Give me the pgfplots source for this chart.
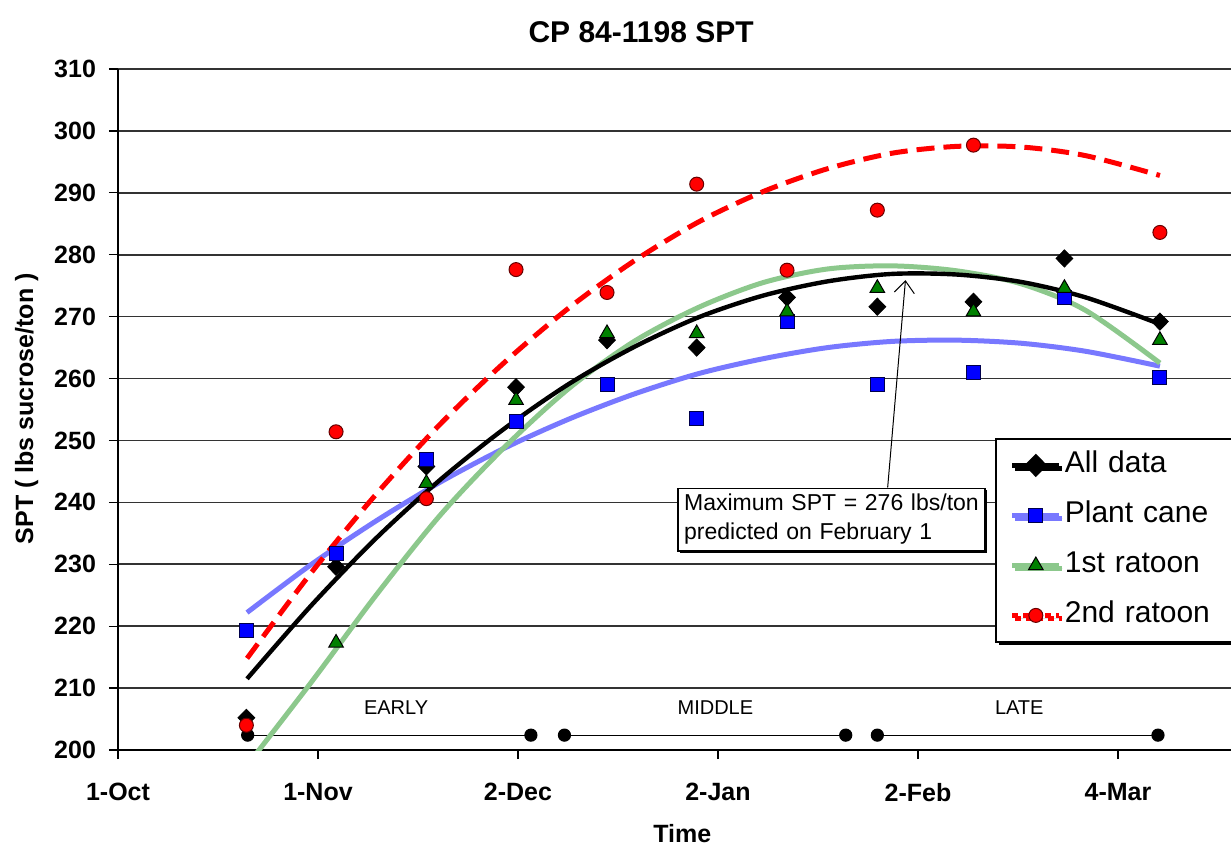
\documentclass[border=0pt]{standalone}
\usepackage{pgfplots}
\pgfplotsset{compat=1.18}
\usepackage{fontspec}
\setmainfont{Liberation Sans}
\usetikzlibrary{arrows.meta,shadows}
\definecolor{pcblue}{RGB}{0,0,255}
\definecolor{pcline}{RGB}{120,120,255}
\definecolor{rgreen}{RGB}{0,128,0}
\definecolor{rgline}{RGB}{140,200,140}
\definecolor{rred}{RGB}{255,0,0}
\begin{document}
\begin{tikzpicture}
\begin{axis}[
  scale only axis, width=556.5pt, height=340.5pt,
  xmin=0, xmax=172.52, ymin=200, ymax=310,
  xtick={0,31,62,93,124,155},
  xticklabels={1-Oct,1-Nov,2-Dec,2-Jan,2-Feb,4-Mar},
  ytick={200,210,...,310},
  axis x line*=bottom, axis y line*=left,
  axis line style={-, black, line width=0.8pt},
  tick align=outside, major tick length=4.5pt,
  tick style={black, line width=0.6pt},
  ymajorgrids, grid style={black!80, line width=0.8pt},
  ticklabel style={font=\bfseries\fontsize{12.5}{15}\selectfont},
  xticklabel style={yshift=-8.5pt},
  yticklabel style={xshift=-3pt},
  /pgf/number format/assume math mode=true,
  title={CP 84-1198 SPT},
  title style={at={(axis description cs:0.47,1.036)}, anchor=center, font=\bfseries\fontsize{15}{18}\selectfont},
  xlabel={Time},
  xlabel style={at={(axis description cs:0.507,-0.122)}, anchor=center, font=\bfseries\fontsize{12.5}{15}\selectfont},
  ylabel={SPT ( lbs sucrose/ton )},
  ylabel style={at={(axis description cs:-0.082,0.501)}, anchor=center, font=\bfseries\fontsize{12.5}{15}\selectfont},
  legend style={at={(axis description cs:0.788,0.458)}, anchor=north west, draw=black, line width=0.8pt, fill=white,
    font=\fontsize{15}{18}\selectfont, inner xsep=7pt, inner ysep=6pt, row sep=10.5pt,
    nodes={inner xsep=1.5pt, inner ysep=0pt, text height=11pt, text depth=3.5pt, text width=76pt, align=left, yshift=-1.5pt},
    drop shadow={shadow xshift=1.5pt, shadow yshift=-1.5pt, fill=black, opacity=1}},
  legend cell align=left,
  legend image code/.code={\draw[mark repeat=2, mark phase=2, #1] plot coordinates {(0pt,-1.5pt) (11.75pt,-1.5pt) (23.5pt,-1.5pt)};},
]
% period bars
\addplot[forget plot, black, line width=0.6pt, mark=*, mark size=3pt] coordinates {(20.1,202.4) (64.0,202.4)};
\addplot[forget plot, black, line width=0.6pt, mark=*, mark size=3pt] coordinates {(69.2,202.4) (112.8,202.4)};
\addplot[forget plot, black, line width=0.6pt, mark=*, mark size=3pt] coordinates {(117.7,202.4) (161.2,202.4)};
\node[font=\fontsize{10}{12}\selectfont] at (axis cs:43.1,206.8) {EARLY};
\node[font=\fontsize{10}{12}\selectfont] at (axis cs:92.6,206.8) {MIDDLE};
\node[font=\fontsize{10}{12}\selectfont] at (axis cs:139.7,206.8) {LATE};

% data markers
\addplot[forget plot, only marks, mark=diamond*, mark size=4.3pt, mark options={xscale=1.3, fill=black, draw=black}] coordinates {
(19.9,205.2)(33.8,229.6)(47.8,245.8)(61.7,258.6)(75.8,266.2)(89.7,265.0)(103.7,273.1)(117.7,271.6)(132.6,272.4)(146.7,279.4)(161.5,269.2)};
\addplot[forget plot, only marks, mark=square*, mark size=3.5pt, mark options={fill=pcblue, draw=black!70!blue, line width=0.5pt}] coordinates {
(19.9,219.3)(33.8,231.8)(47.8,246.9)(61.7,253.0)(75.8,259.1)(89.7,253.6)(103.7,269.2)(117.7,259.1)(132.6,260.9)(146.7,273.1)(161.5,260.2)};
\addplot[forget plot, only marks, mark=triangle*, mark size=4.2pt, mark options={fill=rgreen, draw=black, line width=0.5pt}] coordinates {
(33.8,217.3)(47.8,243.1)(61.7,256.5)(75.8,267.3)(89.7,267.3)(103.7,270.8)(117.7,274.6)(132.6,270.8)(146.7,274.6)(161.5,266.2)};
\addplot[forget plot, only marks, mark=*, mark size=3.5pt, mark options={fill=rred, draw=black!60!red, line width=0.5pt}] coordinates {
(19.9,204.0)(33.8,251.4)(47.8,240.6)(61.7,277.6)(75.8,273.9)(89.7,291.4)(103.7,277.5)(117.7,287.2)(132.6,297.7)(161.5,283.6)};

% trend lines
\addplot[forget plot, no marks, smooth, pcline, line width=2.5pt] coordinates {
(20,222.2)(30,230.0)(40,237.0)(50,243.3)(60,248.8)(70,253.5)(80,257.5)(90,260.8)(100,263.2)(110,265.0)(120,266.0)(130,266.2)(140,265.7)(150,264.4)(161.5,262.0)};
\addplot[forget plot, no marks, smooth, rgline, line width=2.5pt] coordinates {
(20,197.5)(30,211)(40,225)(50,238)(60,249)(70,258.5)(80,266)(90,271.5)(100,275.5)(110,277.7)(120,278.2)(130,277.4)(140,275.3)(150,271)(161.5,262.5)};
\addplot[forget plot, no marks, smooth, rred, line width=2.5pt, dash pattern=on 9pt off 4.5pt] coordinates {
(20,214.8)(30,228.7)(40,241.3)(50,252.7)(60,262.7)(70,271.5)(80,279.0)(90,285.3)(100,290.2)(110,293.9)(120,296.4)(130,297.5)(140,297.4)(150,296.0)(161.5,292.8)};
\addplot[forget plot, no marks, smooth, black, line width=2.2pt] coordinates {
(20,211.5)(30,223.4)(40,234.2)(50,243.7)(60,252.0)(70,259.2)(80,265.1)(90,269.9)(100,273.4)(110,275.7)(120,276.9)(130,276.8)(140,275.6)(150,273.1)(161.5,268.8)};

% annotation
\node[draw=black, line width=0.8pt, fill=white, anchor=north west, inner xsep=3pt, inner ysep=0pt,
  minimum height=31.2pt, text width=147.5pt, align=left, font=\fontsize{11.5}{14.5}\selectfont,
  drop shadow={shadow xshift=1pt, shadow yshift=-1pt, fill=black, opacity=1}]
  at (axis cs:86.7,242.4) {Maximum SPT = 276 lbs/ton\\predicted on February 1};
\draw[-{Straight Barb[length=6pt,width=10pt]}, line width=0.5pt] (axis cs:119.3,242.4) -- (axis cs:122.06,275.9);

% legend
\addlegendimage{black, line width=2.2pt, mark=diamond*, mark size=4.3pt, mark options={xscale=1.3, fill=black, draw=black, solid}}
\addlegendentry{All data}
\addlegendimage{pcline, line width=2.5pt, mark=square*, mark size=3.5pt, mark options={fill=pcblue, draw=black!70!blue, line width=0.5pt, solid}}
\addlegendentry{Plant cane}
\addlegendimage{rgline, line width=2.5pt, mark=triangle*, mark size=4.2pt, mark options={fill=rgreen, draw=black, line width=0.5pt, solid}}
\addlegendentry{1st ratoon}
\addlegendimage{rred, line width=2.5pt, dash pattern=on 3pt off 2.5pt, mark=*, mark size=3.5pt, mark options={fill=rred, draw=black!60!red, line width=0.5pt, solid}}
\addlegendentry{2nd ratoon}
\end{axis}
\pgfresetboundingbox
\path[use as bounding box] (-59pt,-48pt) rectangle (556.5pt,375pt);
\end{tikzpicture}
\end{document}
